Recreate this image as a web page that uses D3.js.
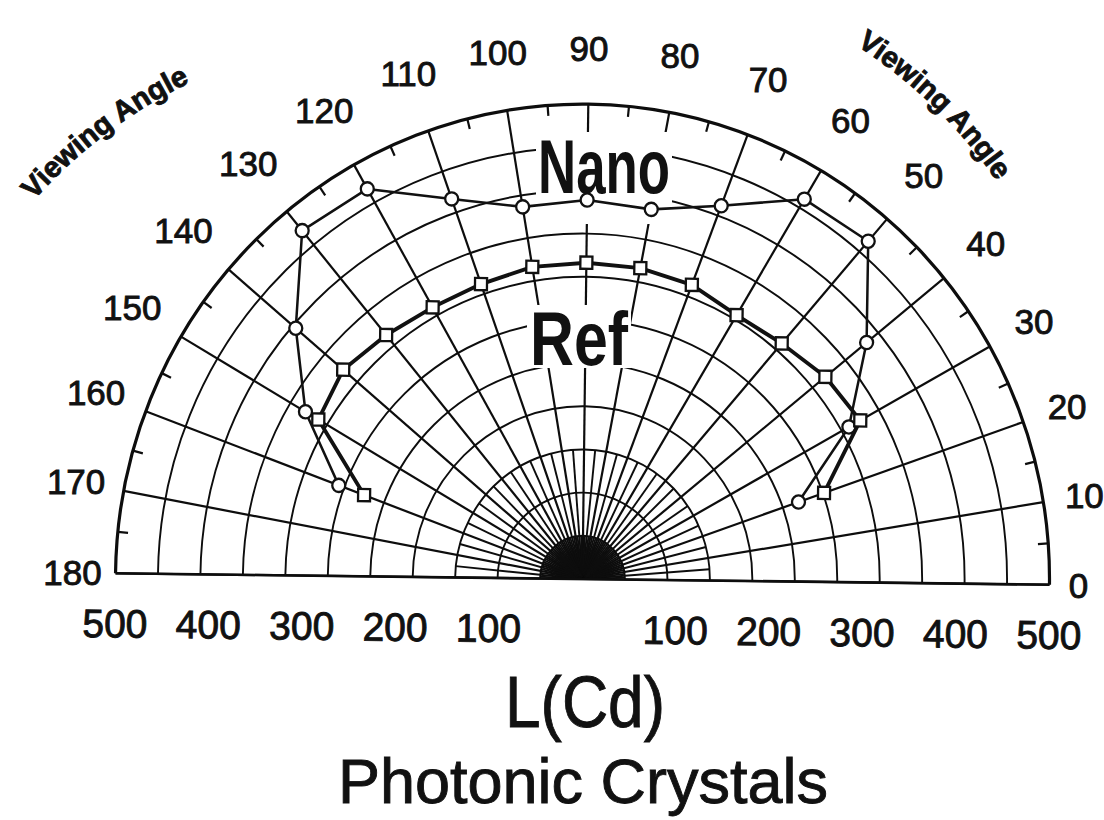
<!DOCTYPE html>
<html>
<head>
<meta charset="utf-8">
<script src="https://cdn.jsdelivr.net/npm/d3@7"></script>
<style>
    body { margin: 0; background: #fff; }
    text { font-family: "Liberation Sans", Arial, sans-serif; fill: #111; }
    .heavy { stroke: #111; stroke-width: 0.9px; }
</style>
</head>
<body>
<div id="chart"></div>
<script>
// viewing angles (deg) and luminance L(Cd)
const angles = [20, 30, 40, 50, 60, 70, 80, 90, 100, 110, 120, 130, 140, 150, 160];
const nanoValues = [245, 327, 393, 469, 465, 420, 396, 399, 397, 424, 471, 474, 405, 345, 279];
const refValues = [274, 341, 336, 327, 323, 331, 333, 333, 333, 329, 328, 332, 338, 329, 250];

const angleLabels = [0, 10, 20, 30, 40, 50, 60, 70, 80, 90, 100, 110, 120, 130, 140, 150, 160, 170, 180];
const distanceLabels = [100, 200, 300, 400, 500];
const ringCount = 11;

const width = 1104;
const height = 820;
const cx = 582.5;
const cy = 579;
const R = 467;

const svg = d3.select("#chart")
    .append("svg")
    .attr("width", width)
    .attr("height", height);

// the scanned figure is slightly tilted and stretched
const tilt = "translate(" + cx + "," + cy + ") rotate(0.7) scale(1,1.017)";
const g = svg.append("g").attr("transform", tilt);

const rScale = d3.scaleLinear().domain([0, 500]).range([0, R]);
const aScale = d3.scaleLinear().domain([0, 180]).range([0, Math.PI]);

const px = (deg, v) => rScale(v) * Math.cos(aScale(deg));
const py = (deg, v) => -rScale(v) * Math.sin(aScale(deg));

const grid = g.append("g").attr("class", "grid")
    .attr("fill", "none")
    .attr("stroke", "#0d0d0d");

// rings
const ringValues = d3.range(1, ringCount + 1).map(k => k * 500 / ringCount);
grid.selectAll("path.ring")
    .data(ringValues)
    .enter()
    .append("path")
    .attr("class", "ring")
    .attr("stroke-width", (d, i) => i === ringCount - 1 ? 3.2 : 1.9)
    .attr("d", d => {
        const p = d3.path();
        p.moveTo(rScale(d), 0);
        p.arc(0, 0, rScale(d), 0, -Math.PI, true);
        return p.toString();
    });

// radial spokes every 10 deg
grid.selectAll("line.spoke")
    .data(angleLabels)
    .enter()
    .append("line")
    .attr("class", "spoke")
    .attr("stroke-width", 2.2)
    .attr("x1", 0).attr("y1", 0)
    .attr("x2", d => px(d, 500))
    .attr("y2", d => py(d, 500));

// extra spokes near the centre
const halfAngles = d3.range(5, 180, 10);
const quarterAngles = d3.range(2.5, 180, 5);
grid.selectAll("line.inner")
    .data(halfAngles)
    .enter()
    .append("line")
    .attr("class", "inner")
    .attr("stroke-width", 1.9)
    .attr("x1", 0).attr("y1", 0)
    .attr("x2", d => px(d, ringValues[2]))
    .attr("y2", d => py(d, ringValues[2]));

grid.selectAll("line.core")
    .data(quarterAngles)
    .enter()
    .append("line")
    .attr("class", "core")
    .attr("stroke-width", 1.9)
    .attr("x1", 0).attr("y1", 0)
    .attr("x2", d => px(d, ringValues[0]))
    .attr("y2", d => py(d, ringValues[0]));

// ticks on the outer arc
grid.selectAll("line.tick")
    .data(halfAngles)
    .enter()
    .append("line")
    .attr("class", "tick")
    .attr("stroke-width", 2.2)
    .attr("x1", d => px(d, 500)).attr("y1", d => py(d, 500))
    .attr("x2", d => px(d, 489)).attr("y2", d => py(d, 489));

grid.append("line")
    .attr("stroke-width", 2.6)
    .attr("x1", -R).attr("y1", 0)
    .attr("x2", R).attr("y2", 0);

// angle labels
g.append("g")
    .selectAll("text")
    .data(angleLabels)
    .enter()
    .append("text")
    .attr("class", "heavy")
    .attr("font-size", 35)
    .attr("text-anchor", "middle")
    .attr("dominant-baseline", "central")
    .attr("transform", d => {
        const a = aScale(d);
        const half = 7 * String(d).length;
        const r = R + 22 + 33 * Math.sin(a) + half * Math.abs(Math.cos(a));
        return "translate(" + (r * Math.cos(a)) + "," + (-r * Math.sin(a)) + ") rotate(-0.7)";
    })
    .text(d => d);

// distance labels on both sides of the centre
const distData = distanceLabels.map(v => ({ v, s: -1 })).concat(distanceLabels.map(v => ({ v, s: 1 })));
g.append("g")
    .selectAll("text")
    .data(distData)
    .enter()
    .append("text")
    .attr("class", "heavy")
    .attr("font-size", 39)
    .attr("text-anchor", "middle")
    .attr("x", d => d.s * rScale(d.v))
    .attr("y", 63)
    .text(d => d.v);

// white boxes behind the curve labels
svg.append("rect").attr("x", 536).attr("y", 132).attr("width", 136).attr("height", 92).attr("fill", "#fff");
svg.append("rect").attr("x", 527).attr("y", 305).attr("width", 104).attr("height", 63).attr("fill", "#fff");

// series
const series = [
    { name: "Nano", values: nanoValues, width: 2.5, marker: "circle" },
    { name: "Ref", values: refValues, width: 3.8, marker: "square" }
];

const line = d3.line()
    .x(d => px(d.a, d.v))
    .y(d => py(d.a, d.v));

const plot = svg.append("g").attr("transform", tilt);

series.forEach(s => {
    const pts = angles.map((a, i) => ({ a, v: s.values[i] }));

    plot.append("path")
        .datum(pts)
        .attr("fill", "none")
        .attr("stroke", "#111")
        .attr("stroke-width", s.width)
        .attr("stroke-linejoin", "round")
        .attr("d", line);

    if (s.marker === "circle") {
        plot.selectAll("circle." + s.name)
            .data(pts)
            .enter()
            .append("circle")
            .attr("class", s.name)
            .attr("cx", d => px(d.a, d.v))
            .attr("cy", d => py(d.a, d.v))
            .attr("r", 6.5)
            .attr("fill", "#fff")
            .attr("stroke", "#111")
            .attr("stroke-width", 2.3);
    } else {
        plot.selectAll("rect." + s.name)
            .data(pts)
            .enter()
            .append("rect")
            .attr("class", s.name)
            .attr("x", d => px(d.a, d.v) - 6)
            .attr("y", d => py(d.a, d.v) - 6)
            .attr("width", 12)
            .attr("height", 12)
            .attr("fill", "#fff")
            .attr("stroke", "#111")
            .attr("stroke-width", 2.3);
    }
});

// curve names
svg.append("text")
    .attr("x", 604).attr("y", 193)
    .attr("font-size", 76).attr("font-weight", "bold")
    .attr("text-anchor", "middle")
    .attr("textLength", 132).attr("lengthAdjust", "spacingAndGlyphs")
    .text("Nano");

svg.append("text")
    .attr("x", 579).attr("y", 365)
    .attr("font-size", 76).attr("font-weight", "bold")
    .attr("text-anchor", "middle")
    .attr("textLength", 98).attr("lengthAdjust", "spacingAndGlyphs")
    .text("Ref");

// curved "Viewing Angle" captions
const arcPath = (x, y, r, from, to) => {
    const p = d3.path();
    p.arc(x, y, r, -from * Math.PI / 180, -to * Math.PI / 180, false);
    return p.toString();
};

const defs = svg.append("defs");
defs.append("path").attr("id", "vaLeft").attr("d", arcPath(407, 533, 500, 141, 113));
defs.append("path").attr("id", "vaRight").attr("d", arcPath(586, 466, 500, 60, 32));

["vaLeft", "vaRight"].forEach(id => {
    svg.append("text")
        .attr("class", "heavy")
        .attr("font-size", 29)
        .attr("font-weight", "bold")
        .append("textPath")
        .attr("href", "#" + id)
        .attr("startOffset", "50%")
        .attr("text-anchor", "middle")
        .text("Viewing Angle");
});

// axis title and caption
svg.append("text")
    .attr("class", "heavy")
    .attr("x", 585).attr("y", 727)
    .attr("font-size", 72)
    .attr("stroke-width", 1.6)
    .attr("text-anchor", "middle")
    .attr("textLength", 160).attr("lengthAdjust", "spacingAndGlyphs")
    .text("L(Cd)");

svg.append("text")
    .attr("class", "heavy")
    .attr("x", 583).attr("y", 803)
    .attr("font-size", 63)
    .attr("stroke-width", 1.4)
    .attr("text-anchor", "middle")
    .text("Photonic Crystals");
</script>
</body>
</html>
